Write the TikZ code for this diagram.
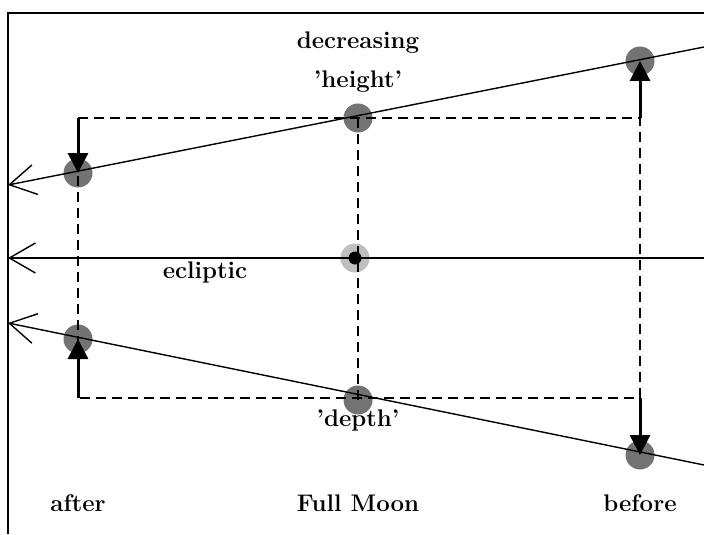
\documentclass[tikz,border=0pt]{standalone}
\usepackage{amsmath}
\usepackage{tikz}
\usetikzlibrary{arrows.meta}

\tikzset{
  moon/.style={circle,fill=black!55,minimum size=14.5pt,inner sep=0pt},
  orbit/.style={line width=0.7pt,-{Straight Barb[length=13pt,width=15pt,line width=0.7pt]}},
  pull/.style={line width=1.5pt,-{Triangle[length=10pt,width=10pt]}},
  guide/.style={dashed,dash pattern=on 5pt off 3pt,line width=0.7pt},
  lbl/.style={font=\large\bfseries}
}

\begin{document}
\begin{tikzpicture}[x=0.5pt,y=-0.5pt]
			\useasboundingbox (0,0) rectangle (704,534);
			% frame
			\draw[line width=1pt] (8,534) -- (8,13) -- (704,13);
			% the moon at three times
			\node[moon] (ha) at (78,173) {};
			\node[moon] (hf) at (358,118) {};
			\node[moon] (hb) at (640,61) {};
			\node[moon] (da) at (78,339) {};
			\node[moon] (df) at (358,400) {};
			\node[moon] (db) at (640,455) {};
			\node[circle,fill=black!25,minimum size=14.5pt,inner sep=0pt] (sun) at (355,258) {};
			\node[circle,fill=black,minimum size=6.5pt,inner sep=0pt] (core) at (355,258) {};
			% paths
			\coordinate (h0) at (704,47);
			\coordinate (h1) at (8,185);
			\coordinate (e0) at (704,258);
			\coordinate (e1) at (8,258);
			\coordinate (d0) at (704,465);
			\coordinate (d1) at (8,323);
			\draw[orbit] (h0) -- (h1);
			\draw[orbit] (e0) -- (e1);
			\draw[orbit] (d0) -- (d1);
			% dashed box
			\coordinate (ta) at (78,118);
			\coordinate (tb) at (640,118);
			\coordinate (ba) at (78,398);
			\coordinate (bb) at (640,398);
			\draw[guide] (ta) -- (tb) -- (bb) -- (ba) -- cycle;
			\draw[guide] (hf.center) -- (df.center);
			% shifts of the moon
			\draw[pull] (ta) -- (ha.center);
			\draw[pull] (ba) -- (da.center);
			\draw[pull] (tb) -- (hb.center);
			\draw[pull] (bb) -- (db.center);
			% labels
			\node[lbl] (dec) at (358,43) {decreasing};
			\node[lbl] (hgt) at (358,82) {'height'};
			\node[lbl] (ecl) at (205,272) {ecliptic};
			\node[lbl] (dep) at (358,420) {'depth'};
			\node[lbl] (aft) at (78,503) {after};
			\node[lbl] (full) at (358,503) {Full Moon};
			\node[lbl] (bef) at (640,503) {before};
		\end{tikzpicture}
\end{document}
